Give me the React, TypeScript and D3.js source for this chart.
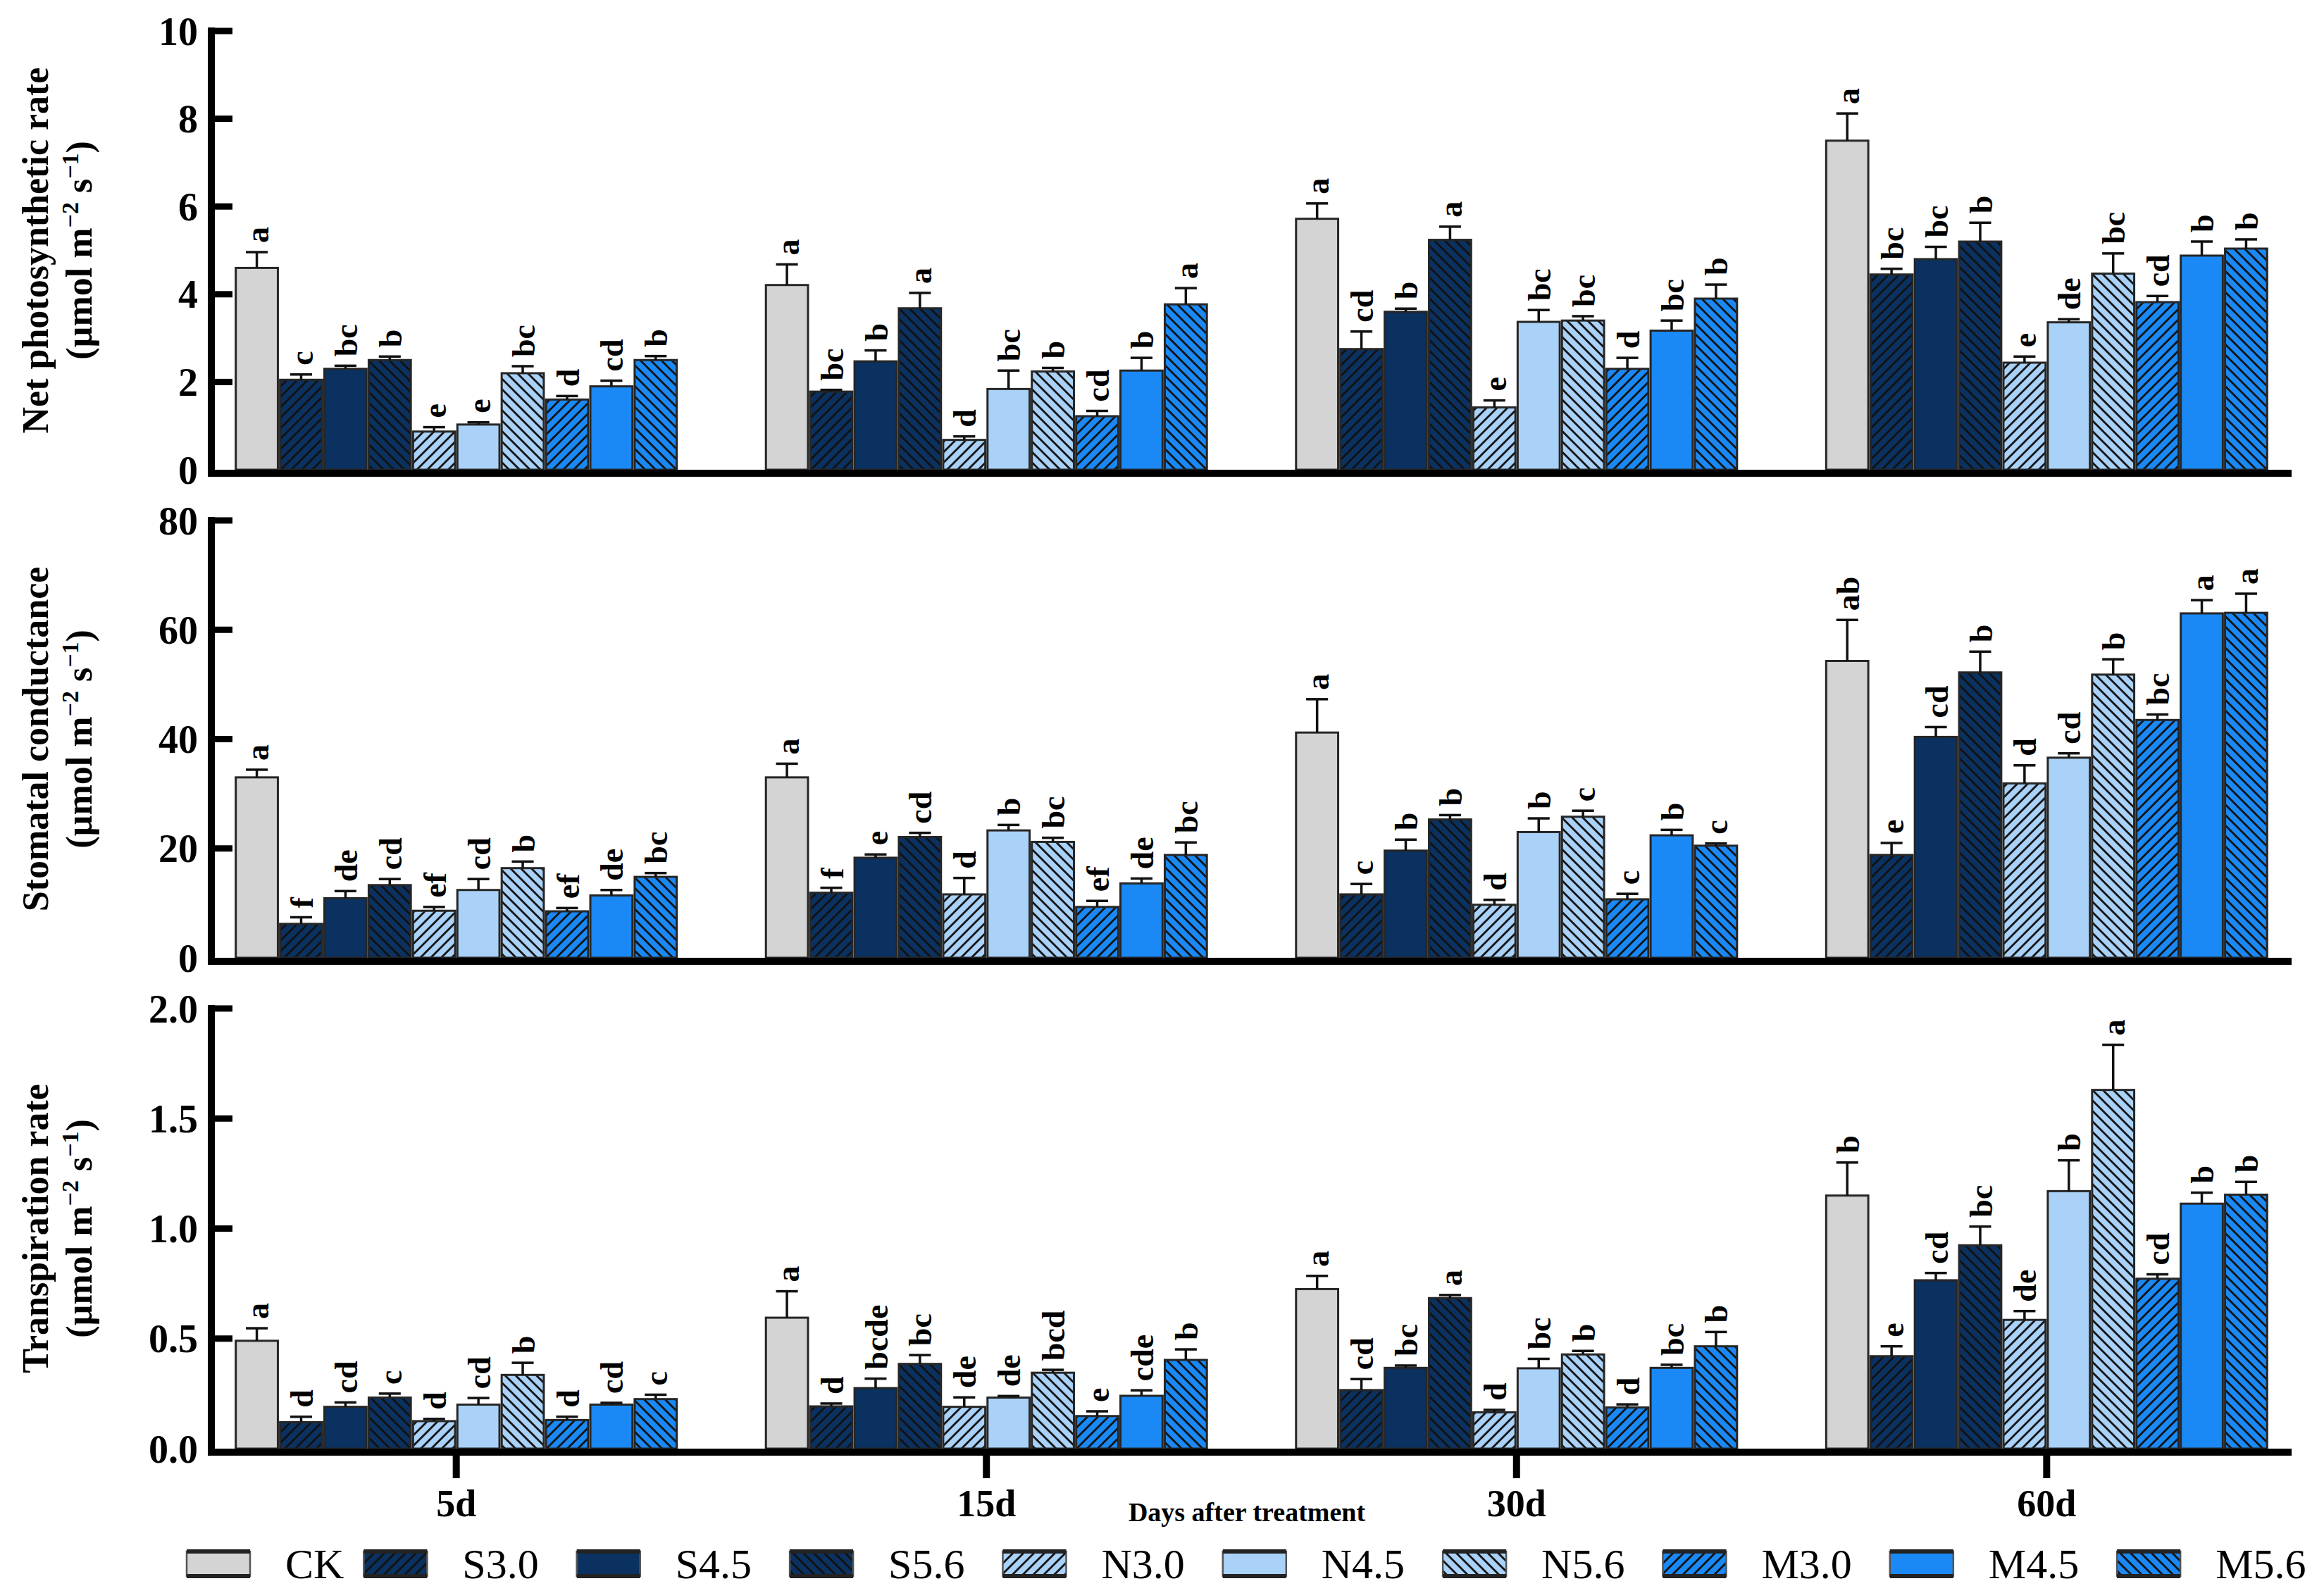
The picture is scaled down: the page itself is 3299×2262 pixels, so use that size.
import { useMemo } from 'react';
import * as d3 from 'd3';

const days = ['5d', '15d', '30d', '60d'];
const treatments = ['CK', 'S3.0', 'S4.5', 'S5.6', 'N3.0', 'N4.5', 'N5.6', 'M3.0', 'M4.5', 'M5.6'];

// Net photosynthetic rate, one row per day
const pnMean = [
	[4.6, 2.05, 2.3, 2.5, 0.87, 1.03, 2.2, 1.6, 1.9, 2.5],
	[4.21, 1.78, 2.47, 3.68, 0.68, 1.84, 2.24, 1.22, 2.26, 3.77],
	[5.72, 2.75, 3.6, 5.24, 1.42, 3.37, 3.4, 2.3, 3.17, 3.9],
	[7.5, 4.45, 4.8, 5.2, 2.44, 3.36, 4.47, 3.82, 4.88, 5.04],
];
const pnErr = [
	[0.36, 0.12, 0.07, 0.08, 0.1, 0.05, 0.16, 0.08, 0.13, 0.09],
	[0.47, 0.04, 0.25, 0.35, 0.08, 0.42, 0.08, 0.12, 0.29, 0.37],
	[0.35, 0.4, 0.07, 0.3, 0.16, 0.27, 0.1, 0.25, 0.23, 0.32],
	[0.62, 0.13, 0.28, 0.43, 0.14, 0.07, 0.46, 0.14, 0.32, 0.21],
];
const pnLetters = [
	['a', 'c', 'bc', 'b', 'e', 'e', 'bc', 'd', 'cd', 'b'],
	['a', 'bc', 'b', 'a', 'd', 'bc', 'b', 'cd', 'b', 'a'],
	['a', 'cd', 'b', 'a', 'e', 'bc', 'bc', 'd', 'bc', 'b'],
	['a', 'bc', 'bc', 'b', 'e', 'de', 'bc', 'cd', 'b', 'b'],
];

// Stomatal conductance
const gsMean = [
	[33, 6.2, 10.9, 13.3, 8.6, 12.4, 16.4, 8.5, 11.4, 14.8],
	[33, 11.9, 18.3, 22.1, 11.6, 23.3, 21.2, 9.3, 13.6, 18.8],
	[41.2, 11.6, 19.6, 25.3, 9.7, 23, 25.8, 10.7, 22.4, 20.5],
	[54.3, 18.8, 40.4, 52.2, 31.9, 36.6, 51.8, 43.5, 63, 63.1],
];
const gsErr = [
	[1.4, 1.2, 1.3, 1.1, 0.7, 2, 1.2, 0.6, 1, 0.7],
	[2.5, 0.9, 0.6, 0.75, 3, 1, 0.75, 1.1, 0.9, 2.3],
	[6.1, 1.9, 2, 0.8, 0.9, 2.5, 1.1, 1, 1, 0.4],
	[7.5, 2.2, 1.8, 3.8, 3.3, 0.8, 2.8, 1, 2.4, 3.5],
];
const gsLetters = [
	['a', 'f', 'de', 'cd', 'ef', 'cd', 'b', 'ef', 'de', 'bc'],
	['a', 'f', 'e', 'cd', 'd', 'b', 'bc', 'ef', 'de', 'bc'],
	['a', 'c', 'b', 'b', 'd', 'b', 'c', 'c', 'b', 'c'],
	['ab', 'e', 'cd', 'b', 'd', 'cd', 'b', 'bc', 'a', 'a'],
];

// Transpiration rate
const trMean = [
	[0.49, 0.12, 0.19, 0.232, 0.125, 0.2, 0.335, 0.13, 0.2, 0.225],
	[0.595, 0.192, 0.275, 0.385, 0.19, 0.232, 0.345, 0.148, 0.24, 0.403],
	[0.725, 0.266, 0.367, 0.684, 0.165, 0.365, 0.428, 0.187, 0.367, 0.465],
	[1.15, 0.42, 0.765, 0.924, 0.585, 1.17, 1.63, 0.772, 1.113, 1.154],
];
const trErr = [
	[0.057, 0.025, 0.02, 0.018, 0.01, 0.03, 0.055, 0.015, 0.008, 0.02],
	[0.12, 0.013, 0.043, 0.04, 0.043, 0.007, 0.013, 0.022, 0.025, 0.048],
	[0.06, 0.05, 0.011, 0.014, 0.011, 0.043, 0.016, 0.014, 0.014, 0.065],
	[0.15, 0.045, 0.033, 0.085, 0.04, 0.14, 0.205, 0.02, 0.05, 0.058],
];
const trLetters = [
	['a', 'd', 'cd', 'c', 'd', 'cd', 'b', 'd', 'cd', 'c'],
	['a', 'd', 'bcde', 'bc', 'de', 'de', 'bcd', 'e', 'cde', 'b'],
	['a', 'cd', 'bc', 'a', 'd', 'bc', 'b', 'd', 'bc', 'b'],
	['b', 'e', 'cd', 'bc', 'de', 'b', 'a', 'cd', 'b', 'b'],
];

const pnTicks = [0, 2, 4, 6, 8, 10];
const gsTicks = [0, 20, 40, 60, 80];
const trTicks = [0, 0.5, 1.0, 1.5, 2.0];

const fills: Record<string, string> = {
	CK: '#d4d4d4',
	S: '#0a3160',
	N: '#aad2f8',
	M: '#1a89f5',
};
// '' = solid, '/' = forward hatch, '\\' = back hatch
const hatch = ['', '/', '', '\\', '/', '', '\\', '/', '', '\\'];

const W = 3299;
const H = 2262;
const FONT = '"Liberation Serif", "Times New Roman", serif';
const AXIS_X = 300;
const AXIS_END = 3253;
const HATCH = 10.5;

const panels = [
	{ key: 'pn', title: 'Net photosynthetic rate', mean: pnMean, err: pnErr, letters: pnLetters, ticks: pnTicks, fmt: d3.format('d'), top: 44, bottom: 667 },
	{ key: 'gs', title: 'Stomatal conductance', mean: gsMean, err: gsErr, letters: gsLetters, ticks: gsTicks, fmt: d3.format('d'), top: 739, bottom: 1360 },
	{ key: 'tr', title: 'Transpiration rate', mean: trMean, err: trErr, letters: trLetters, ticks: trTicks, fmt: d3.format('.1f'), top: 1432, bottom: 2057 },
];

const colorOf = (t: string) => fills[t === 'CK' ? 'CK' : t[0]];
const fillOf = (i: number) => (hatch[i] ? `url(#pat-${i})` : colorOf(treatments[i]));

const Patterns = () => (
	<defs>
		{treatments.map((t, i) =>
			hatch[i] ? (
				<pattern
					key={t}
					id={`pat-${i}`}
					patternUnits="userSpaceOnUse"
					width={HATCH}
					height={HATCH}
					patternTransform={`rotate(${hatch[i] === '/' ? 45 : -45})`}
				>
					<rect width={HATCH} height={HATCH} fill={colorOf(t)} />
					<line x1={1.5} y1={-1} x2={1.5} y2={HATCH + 1} stroke="#111" strokeWidth={2.8} />
				</pattern>
			) : null
		)}
	</defs>
);

export default function App() {
	const xDay = d3.scalePoint<string>().domain(days).range([AXIS_X, AXIS_END]).padding(0.462);
	const xTr = d3.scaleBand<string>().domain(treatments).range([-313, 313]).paddingInner(0.05);
	const bw = xTr.bandwidth();

	const legendWidths = useMemo(() => {
		const ctx = document.createElement('canvas').getContext('2d');
		if (!ctx) return treatments.map(() => 110);
		ctx.font = `60px ${FONT}`;
		return treatments.map((t) => ctx.measureText(t).width);
	}, []);

	let lx = 265;
	const legendPos = treatments.map((_, i) => {
		const p = lx;
		lx += 140 + legendWidths[i] + (i === 0 ? 28 : 54);
		return p;
	});

	return (
		<div style={{ position: 'absolute', left: 0, top: 0, background: '#fff' }}>
			<svg width={W} height={H} style={{ display: 'block', fontFamily: FONT }}>
				<Patterns />
				<rect width={W} height={H} fill="#fff" />
				{panels.map((p, pi) => {
					const y = d3.scaleLinear().domain([0, p.ticks[p.ticks.length - 1]]).range([p.bottom, p.top]);
					const y0 = y(0);
					const mid = (p.top + p.bottom) / 2;
					return (
						<g key={p.key}>
							{/* axis titles */}
							<text transform={`translate(50,${mid}) rotate(-90)`} textAnchor="middle" dy="0.35em" fontSize={52} fontWeight="bold">
								{p.title}
							</text>
							<text transform={`translate(112,${mid}) rotate(-90)`} textAnchor="middle" dy="0.35em" fontSize={52} fontWeight="bold">
								(µmol m<tspan dy={-19} fontSize={34}>−2</tspan>
								<tspan dy={19}> s</tspan>
								<tspan dy={-19} fontSize={34}>−1</tspan>
								<tspan dy={19}>)</tspan>
							</text>

							{/* bars */}
							{days.map((d, di) => (
								<g key={d} transform={`translate(${xDay(d)},0)`}>
									{treatments.map((t, ti) => {
										const m = p.mean[di][ti];
										const e = p.err[di][ti];
										const bx = xTr(t)!;
										const cx = bx + bw / 2;
										const yTop = y(m + e);
										return (
											<g key={t}>
												<rect x={bx} y={y(m)} width={bw} height={y0 - y(m)} fill={fillOf(ti)} stroke="#262626" strokeWidth={3} />
												<line x1={cx} x2={cx} y1={y(m)} y2={yTop} stroke="#111" strokeWidth={3.5} />
												<line x1={cx - bw * 0.26} x2={cx + bw * 0.26} y1={yTop} y2={yTop} stroke="#111" strokeWidth={3.5} />
												<text transform={`translate(${cx},${yTop - 13}) rotate(-90)`} dy="0.36em" fontSize={46} fontWeight="bold">
													{p.letters[di][ti]}
												</text>
											</g>
										);
									})}
								</g>
							))}

							{/* axes */}
							<line x1={AXIS_X} x2={AXIS_X} y1={p.top - 5} y2={y0 + 10} stroke="#000" strokeWidth={10} />
							<line x1={AXIS_X - 5} x2={AXIS_END} y1={y0 + 5} y2={y0 + 5} stroke="#000" strokeWidth={10} />
							{p.ticks.map((tv) => (
								<g key={tv}>
									{tv !== 0 && <line x1={AXIS_X} x2={AXIS_X + 30} y1={y(tv)} y2={y(tv)} stroke="#000" strokeWidth={9} />}
									<text x={281} y={y(tv)} dy="0.35em" textAnchor="end" fontSize={56} fontWeight="bold">
										{p.fmt(tv)}
									</text>
								</g>
							))}
							{pi === panels.length - 1 &&
								days.map((d) => (
									<g key={d}>
										<line x1={xDay(d)} x2={xDay(d)} y1={y0 + 5} y2={y0 + 42} stroke="#000" strokeWidth={10} />
										<text x={xDay(d)} y={2153} textAnchor="middle" fontSize={54} fontWeight="bold">
											{d}
										</text>
									</g>
								))}
						</g>
					);
				})}

				<text x={1770} y={2160} textAnchor="middle" fontSize={38} fontWeight="bold">
					Days after treatment
				</text>

				{/* legend */}
				{treatments.map((t, i) => (
					<g key={t} transform={`translate(${legendPos[i]},2203)`}>
						<rect width={90} height={35} fill={fillOf(i)} stroke="#555" strokeWidth={2.5} />
						<line x1={0} x2={90} y1={0} y2={0} stroke="#222" strokeWidth={6} />
						<line x1={0} x2={90} y1={35} y2={35} stroke="#222" strokeWidth={6} />
						<text x={140} y={38} fontSize={60}>
							{t}
						</text>
					</g>
				))}
			</svg>
		</div>
	);
}
